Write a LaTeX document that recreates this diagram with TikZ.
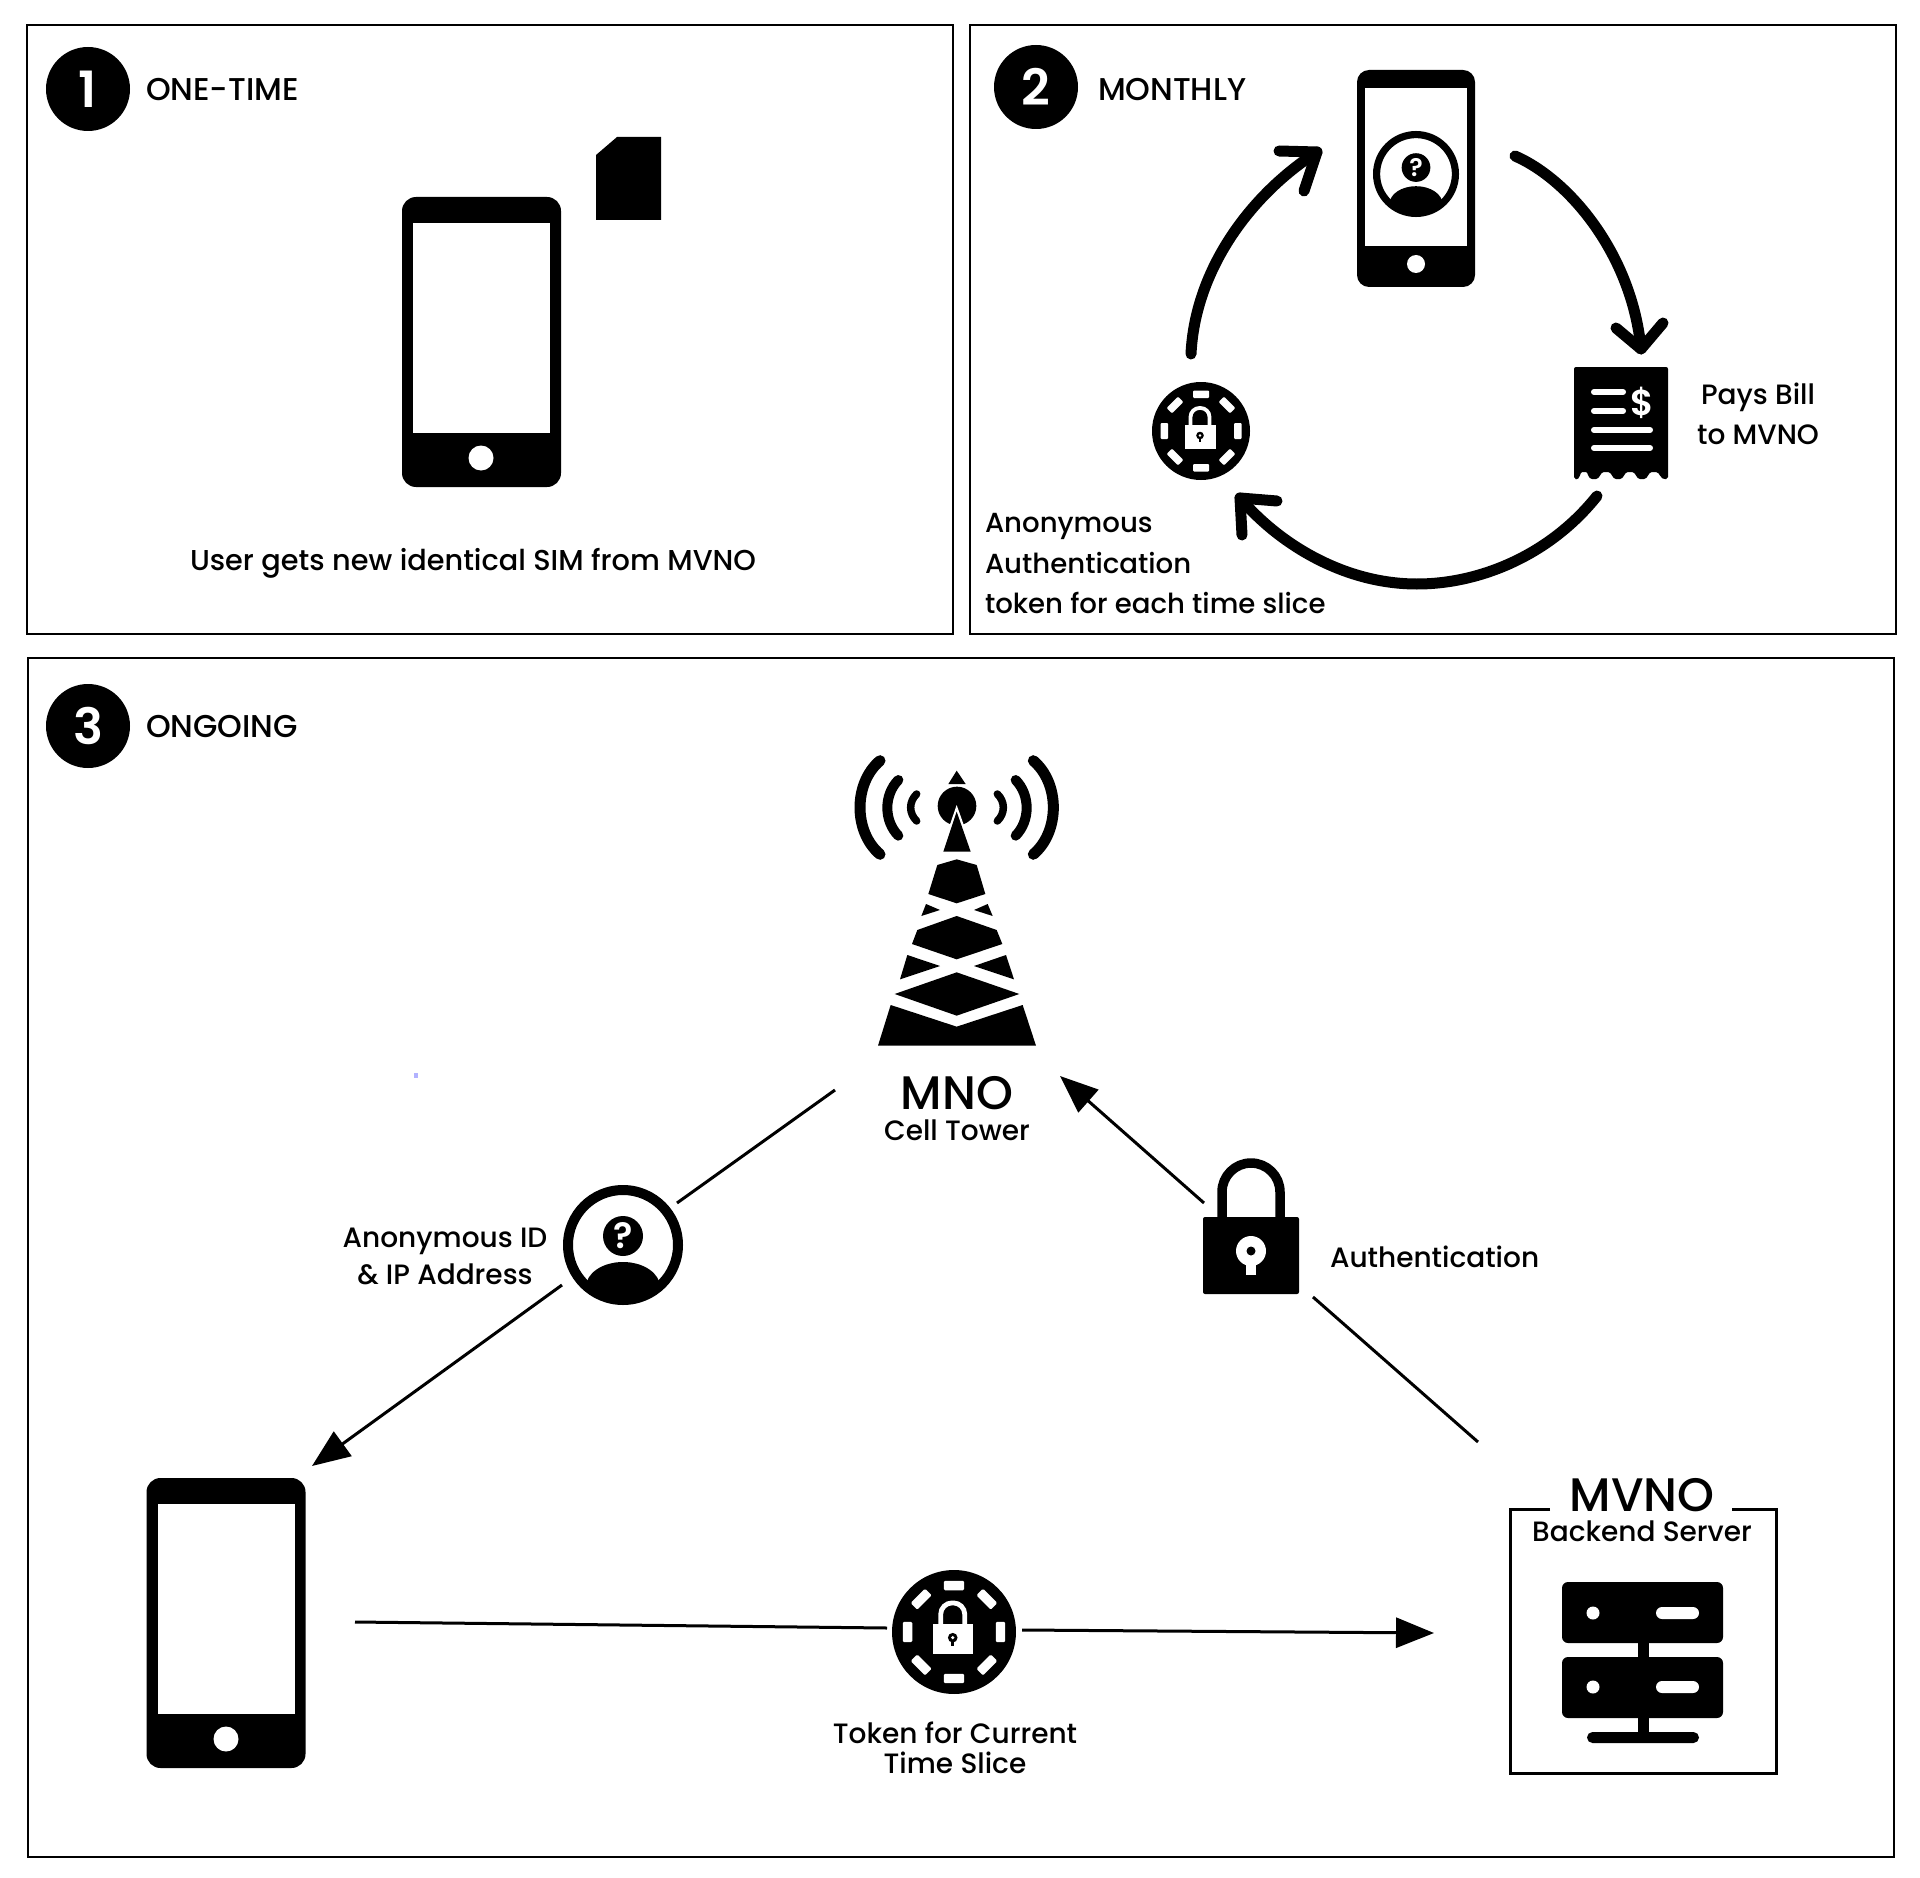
\documentclass[tikz,border=0pt]{standalone}
\usepackage{fontspec}
\setmainfont{Poppins Medium}
\newfontfamily\semifont{Poppins SemiBold}
\usetikzlibrary{arrows.meta}
\newcommand\tokenicon[4]{%
  \begin{scope}[shift={(#2,#3)},scale=#4]
    \coordinate (#1) at (0,0);
    \fill[black] (0,0) circle (49);
    \foreach \a in {0,45,...,315}
      \fill[white,rotate=\a,rounded corners=#4*1pt] (-8,-40.5) rectangle (8,-33);
    \fill[white] (-16.3,-6.5) rectangle (15,17.5);
    \draw[white,line width=#4*3.8pt,rounded corners=#4*9pt] (-10.5,-6) -- (-10.5,-23) -- (8.5,-23) -- (8.5,-6);
    \fill[black] (-1,4.5) circle (3.8);
    \fill[black] (-2,4.5) rectangle (0,11);
    \fill[white] (-1,4.5) circle (1.4);
  \end{scope}}
\newcommand\personicon[5]{%
  \begin{scope}[shift={(#2,#3)},scale=#4]
    \coordinate (#1) at (0,0);
    \fill[black,even odd rule] (0,0) circle (60) (0,0) circle (50);
    \fill[black] (0,-9) circle (20);
    \begin{scope}
      \clip (0,0) circle (55);
      \fill[black] (0,42) ellipse (37 and 25);
    \end{scope}
    \node[inner sep=0pt,text=white,font=\semifont\fontsize{#5}{#5}\selectfont] (#1q) at (0,-9) {?};
  \end{scope}}
\tikzset{
  panel/.style={draw=black,line width=2.6pt,fill=white},
  lab/.style={font=\fontsize{28}{40.5}\selectfont,inner sep=0pt,outer sep=0pt,text=black},
  labtight/.style={font=\fontsize{28}{30.6}\selectfont,inner sep=0pt,outer sep=0pt,text=black},
  labwide/.style={font=\fontsize{28}{37}\selectfont,inner sep=0pt,outer sep=0pt,text=black},
  head/.style={font=\fontsize{31.5}{34}\selectfont,inner sep=0pt,outer sep=0pt,text=black,anchor=west},
  big/.style={font=\fontsize{47}{47}\selectfont,inner sep=0pt,outer sep=0pt,text=black},
  badge/.style={circle,fill=black,minimum size=84pt,inner sep=0pt,outer sep=0pt,text=white,font=\semifont\fontsize{50}{50}\selectfont},
  phonebody/.style={fill=black,rounded corners=#1,inner sep=0pt,outer sep=0pt},
  phonescreen/.style={fill=white,inner sep=0pt,outer sep=0pt},
  phonehome/.style={circle,fill=white,inner sep=0pt,outer sep=0pt},
  thick line/.style={draw=black,line width=3pt},
  thin arrow/.style={draw=black,line width=3pt,-{Triangle[length=38pt,width=30pt]}},
  loop line/.style={draw=black,line width=11pt,line cap=round,line join=round},
}
\begin{document}
\begin{tikzpicture}[x=1pt,y=-1pt]
\useasboundingbox (0,0) rectangle (1920,1878);
\fill[white] (0,0) rectangle (1920,1878);
% panels
\draw[panel] (27,25) rectangle (953,634);
\draw[panel] (970,25) rectangle (1896,634);
\draw[panel] (28,658) rectangle (1894,1857);
% badges and headings
\node[badge] (b1) at (88,89) {1};
\node[badge] (b2) at (1036,87) {2};
\node[badge] (b3) at (88,726) {3};
\node[head] (h1) at (146,90) {ONE-TIME};
\node[head] (h2) at (1098,90) {MONTHLY};
\node[head] (h3) at (146,727) {ONGOING};
% panel 1
\node[phonebody=14pt,minimum width=159pt,minimum height=290pt] (phoneA) at (481.5,342) {};
\node[phonescreen,minimum width=137pt,minimum height=210pt] (screenA) at (481.5,328) {};
\node[phonehome,minimum size=25pt] (homeA) at (481,458) {};
\fill[black] (596,155) -- (617,137) -- (661,137) -- (661,220) -- (596,220) -- cycle;
\node[lab,font=\fontsize{28.75}{40}\selectfont] (t1) at (473,563) {User gets new identical SIM from MVNO};
% panel 2
\node[phonebody=12pt,minimum width=118pt,minimum height=217pt] (phoneB) at (1416,178.5) {};
\node[phonescreen,minimum width=102pt,minimum height=158pt] (screenB) at (1416,167) {};
\node[phonehome,minimum size=18pt] (homeB) at (1416,264) {};
\personicon{personB}{1416}{174}{0.717}{25}
% bill
\fill[black,rounded corners=2pt] (1574,367) -- (1668,367) -- (1668,479)
  .. controls (1660,480) and (1660,472) .. (1654,472)
  .. controls (1648,472) and (1648,479) .. (1642,479)
  .. controls (1636,479) and (1636,472) .. (1630,472)
  .. controls (1624,472) and (1624,479) .. (1618,479)
  .. controls (1612,479) and (1612,472) .. (1606,472)
  .. controls (1600,472) and (1600,479) .. (1594,479)
  .. controls (1588,479) and (1588,472) .. (1584,472)
  .. controls (1580,472) and (1580,480) .. (1574,479) -- cycle;
\foreach \ya/\xb in {392/1623,411/1623,430/1650,448/1650}
  \draw[white,line width=6pt,line cap=round] (1594,\ya) -- (\xb,\ya);
\node[inner sep=0pt,text=white,font=\semifont\fontsize{36}{36}\selectfont] (dollar) at (1642,403) {\$};
\node[lab,align=center] (t2) at (1758,414) {Pays Bill\\to MVNO};
\tokenicon{tokenB}{1201}{431}{1}
\node[lab,font=\fontsize{27.6}{40.5}\selectfont,align=left,anchor=north west] (t3) at (985,513.5) {Anonymous\\Authentication\\token for each time slice};
% loop arrows
\coordinate (la1) at (1191,354);
\coordinate (la2) at (1317,152);
\coordinate (la3) at (1279,151);
\coordinate (la4) at (1304,191);
\coordinate (lb1) at (1515,156);
\coordinate (lb2) at (1641,349);
\coordinate (lb3) at (1616,328);
\coordinate (lb4) at (1663,323);
\coordinate (lc1) at (1597,496);
\coordinate (lc2) at (1417,584);
\coordinate (lc3) at (1240,498);
\coordinate (lc4) at (1277,501);
\coordinate (lc5) at (1242,535);
\draw[loop line] (la1) .. controls (1195,270) and (1250,195) .. (la2);
\draw[loop line] (la3) -- (la2) -- (la4);
\draw[loop line] (lb1) .. controls (1570,180) and (1632,255) .. (lb2);
\draw[loop line] (lb3) -- (lb2) -- (lb4);
\draw[loop line] (lc1) .. controls (1550,555) and (1480,584) .. (lc2) .. controls (1345,584) and (1280,545) .. (lc3);
\draw[loop line] (lc4) -- (lc3) -- (lc5);
% tower
\begin{scope}[shift={(820,720)},scale=0.33333]
  \coordinate (tower) at (410,560);
  \fill[black] (410,152) -- (385,192) -- (437,192) -- cycle;
  \fill[black] (411,258) circle (58);
  \fill[white] (410,255) -- (362,395) -- (460,395) -- cycle;
  \fill[white] (340,395) rectangle (480,418);
  \fill[black] (410,275) -- (370,395) -- (452,395) -- cycle;
  \fill[black] (410,418) -- (470,435) -- (496,522) -- (410,550) -- (325,522) -- (352,435) -- cycle;
  \fill[black] (318,552) -- (360,570) -- (304,588) -- cycle;
  \fill[black] (503,552) -- (462,570) -- (518,588) -- cycle;
  \fill[black] (410,588) -- (530,630) -- (547,672) -- (410,718) -- (276,672) -- (292,630) -- cycle;
  \fill[black] (262,705) -- (360,738) -- (240,778) -- cycle;
  \fill[black] (558,705) -- (462,738) -- (582,778) -- cycle;
  \fill[black] (410,757) -- (598,822) -- (410,887) -- (224,822) -- cycle;
  \fill[black] (212,855) -- (410,920) -- (608,855) -- (648,977) -- (174,977) -- cycle;
  \draw[black,line width=11pt,line cap=round] (640,122) .. controls (720,190) and (720,335) .. (640,403);
  \draw[black,line width=10pt,line cap=round] (587,180) .. controls (631,225) and (631,302) .. (587,347);
  \draw[black,line width=7.5pt,line cap=round] (532,222) .. controls (556,245) and (556,280) .. (532,303);
  \draw[black,line width=11pt,line cap=round] (180,122) .. controls (100,190) and (100,335) .. (180,403);
  \draw[black,line width=10pt,line cap=round] (235,180) .. controls (191,225) and (191,302) .. (235,347);
  \draw[black,line width=7.5pt,line cap=round] (290,222) .. controls (266,245) and (266,280) .. (290,303);
\end{scope}
\node[big] (mno) at (957,1093) {MNO};
\node[lab] (celltower) at (957,1130) {Cell Tower};
% speck
\fill[blue!30] (414,1073) rectangle (418,1078);
% person, panel 3
\personicon{personC}{623}{1245}{1}{36}
\node[labwide,align=center] (t4) at (445,1256) {Anonymous ID\\\& IP Address};
% lock, panel 3
\coordinate (lockC) at (1251,1255);
\draw[black,line width=9.5pt,rounded corners=29pt] (1222,1222) -- (1222,1163) -- (1280,1163) -- (1280,1222);
\fill[black,rounded corners=2pt] (1203,1217) rectangle (1299,1294);
\fill[white] (1251,1251) circle (15);
\fill[white] (1246,1255) rectangle (1256,1275);
\fill[black] (1251,1251) circle (4.5);
\node[lab,anchor=west] (t5) at (1330,1257) {Authentication};
% phone, panel 3
\node[phonebody=14pt,minimum width=159pt,minimum height=290pt] (phoneC) at (226,1623) {};
\node[phonescreen,minimum width=137pt,minimum height=210pt] (screenC) at (226,1609) {};
\node[phonehome,minimum size=25pt] (homeC) at (226,1739) {};
% token, panel 3
\tokenicon{tokenC}{954}{1632}{1.265}
\node[labtight,align=center] (t6) at (955,1748) {Token for Current\\Time Slice};
% server
\draw[black,line width=3pt] (1550,1509) -- (1510,1509) -- (1510,1773) -- (1776,1773) -- (1776,1509) -- (1732,1509);
\node[big] (mvno) at (1642,1495) {MVNO};
\node[lab] (backend) at (1642,1531) {Backend Server};
\fill[black,rounded corners=6pt] (1562,1582) rectangle (1723,1643);
\fill[black,rounded corners=6pt] (1562,1657) rectangle (1723,1718);
\fill[black] (1638,1640) rectangle (1649,1660);
\fill[black] (1638,1715) rectangle (1649,1735);
\fill[black,rounded corners=5.5pt] (1587,1732) rectangle (1699,1743);
\fill[white] (1593,1613) circle (6.5);
\fill[white] (1593,1687) circle (6.5);
\fill[white,rounded corners=6pt] (1656,1607) rectangle (1699,1619);
\fill[white,rounded corners=6pt] (1656,1681) rectangle (1699,1693);
% connectors
\coordinate (c1a) at (835,1090);
\coordinate (c1b) at (677,1203);
\coordinate (c1c) at (562,1285);
\coordinate (c1d) at (312,1466);
\coordinate (c2a) at (1478,1442);
\coordinate (c2b) at (1313,1297);
\coordinate (c2c) at (1204,1203);
\coordinate (c2d) at (1060,1076);
\coordinate (c3a) at (355,1622);
\coordinate (c3b) at (887,1628);
\coordinate (c3c) at (1022,1630);
\coordinate (c3d) at (1434,1633);
\draw[thick line] (c1a) -- (c1b);
\draw[thin arrow] (c1c) -- (c1d);
\draw[thick line] (c2a) -- (c2b);
\draw[thin arrow] (c2c) -- (c2d);
\draw[thick line] (c3a) -- (c3b);
\draw[thin arrow] (c3c) -- (c3d);
\end{tikzpicture}
\end{document}
